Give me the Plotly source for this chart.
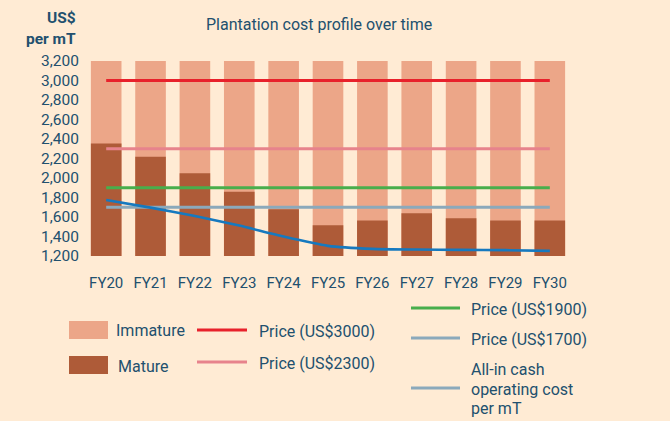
import plotly.graph_objects as go

# ---- data ----
years = ["FY20", "FY21", "FY22", "FY23", "FY24", "FY25", "FY26", "FY27", "FY28", "FY29", "FY30"]
immature_top = [3200, 3200, 3200, 3200, 3200, 3200, 3200, 3200, 3200, 3200, 3200]
mature = [2355, 2218, 2048, 1860, 1680, 1515, 1563, 1639, 1587, 1563, 1563]
cash_cost = [1775, 1696, 1611, 1512, 1399, 1304, 1273, 1266, 1263, 1260, 1253]
price_3000 = [3000] * 11
price_2300 = [2300] * 11
price_1900 = [1900] * 11
price_1700 = [1700] * 11
y_ticks = [1200, 1400, 1600, 1800, 2000, 2200, 2400, 2600, 2800, 3000, 3200]

# ---- style ----
BG = "#FFEBD4"
TXT = "#22506E"
C_IMM = "#ECA688"
C_MAT = "#AE5B38"
C_RED = "#E8212B"
C_PINK = "#E7838C"
C_GREEN = "#48AE4C"
C_GRAY = "#8BA9BB"
C_BLUE = "#1679BF"
FONT = "Roboto"

W, H = 670, 421
L, R, T, B = 84, 98, 61, 165
PW, PH = W - L - R, H - T - B


def px(x):
    return (x - L) / PW


def py(y):
    return (H - B - y) / PH


fig = go.Figure()
fig.add_trace(go.Bar(x=years, y=immature_top, marker=dict(color=C_IMM, line=dict(width=0)), name="Immature"))
fig.add_trace(go.Bar(x=years, y=mature, marker=dict(color=C_MAT, line=dict(width=0)), name="Mature"))
for vals, col in [(price_3000, C_RED), (price_2300, C_PINK), (price_1900, C_GREEN), (price_1700, C_GRAY)]:
    fig.add_trace(go.Scatter(x=years, y=vals, mode="lines", line=dict(color=col, width=3)))
fig.add_trace(go.Scatter(x=years, y=cash_cost, mode="lines",
                         line=dict(color=C_BLUE, width=2.6, shape="spline", smoothing=0.6)))

annotations = []
shapes = []

# title and unit label
annotations.append(dict(text="Plantation cost profile over time", xref="paper", yref="paper",
                        x=px(319), y=py(24), xanchor="center", yanchor="middle", showarrow=False,
                        font=dict(family=FONT, size=16, color=TXT)))
annotations.append(dict(text="<b>US$</b>", xref="paper", yref="paper", x=px(78), y=py(18),
                        xanchor="right", yanchor="middle", showarrow=False,
                        font=dict(family=FONT, size=15.5, color=TXT)))
annotations.append(dict(text="<b>per mT</b>", xref="paper", yref="paper", x=px(78), y=py(39),
                        xanchor="right", yanchor="middle", showarrow=False,
                        font=dict(family=FONT, size=15.5, color=TXT)))

# custom legend
LEG = 16
swatches = [("Immature", C_IMM, 321, 339, 330, 114), ("Mature", C_MAT, 356, 374, 366, 116)]
for label, col, y0, y1, yt, xt in swatches:
    shapes.append(dict(type="rect", xref="paper", yref="paper", x0=px(69), x1=px(108),
                       y0=py(y1), y1=py(y0), fillcolor=col, line=dict(width=0)))
    annotations.append(dict(text=label, xref="paper", yref="paper", x=px(xt), y=py(yt),
                            xanchor="left", yanchor="middle", showarrow=False,
                            font=dict(family=FONT, size=LEG, color=TXT)))

lines = [("Price (US$3000)", C_RED, 197, 247, 330, 257),
         ("Price (US$2300)", C_PINK, 197, 247, 362, 257),
         ("Price (US$1900)", C_GREEN, 411, 460, 308, 469),
         ("Price (US$1700)", C_GRAY, 411, 460, 338, 469)]
for label, col, x0, x1, yy, xt in lines:
    shapes.append(dict(type="line", xref="paper", yref="paper", x0=px(x0), x1=px(x1),
                       y0=py(yy), y1=py(yy), line=dict(color=col, width=3)))
    annotations.append(dict(text=label, xref="paper", yref="paper", x=px(xt), y=py(yy + 1),
                            xanchor="left", yanchor="middle", showarrow=False,
                            font=dict(family=FONT, size=LEG, color=TXT)))

shapes.append(dict(type="line", xref="paper", yref="paper", x0=px(411), x1=px(460),
                   y0=py(388), y1=py(388), line=dict(color=C_GRAY, width=3)))
for txt, yy in [("All-in cash", 369), ("operating cost", 389), ("per mT", 408)]:
    annotations.append(dict(text=txt, xref="paper", yref="paper", x=px(469), y=py(yy),
                            xanchor="left", yanchor="middle", showarrow=False,
                            font=dict(family=FONT, size=LEG, color=TXT)))

fig.update_layout(
    width=W, height=H,
    margin=dict(l=L, r=R, t=T, b=B, pad=0),
    paper_bgcolor=BG, plot_bgcolor=BG,
    barmode="overlay", bargap=0.31,
    showlegend=False,
    font=dict(family=FONT, size=15, color=TXT),
    annotations=annotations, shapes=shapes,
    xaxis=dict(showgrid=False, zeroline=False, showline=False, ticks="",
               tickfont=dict(family=FONT, size=15, color=TXT), ticklabelstandoff=16),
    yaxis=dict(range=[1200, 3200], tickvals=y_ticks, tickformat=",", showgrid=False,
               zeroline=False, showline=False, ticks="",
               tickfont=dict(family=FONT, size=15.5, color=TXT), ticklabelstandoff=4),
)

fig.write_html("out.html", config={"displayModeBar": False},
               post_script="document.body.style.margin='0';document.body.style.background='" + BG + "';")
